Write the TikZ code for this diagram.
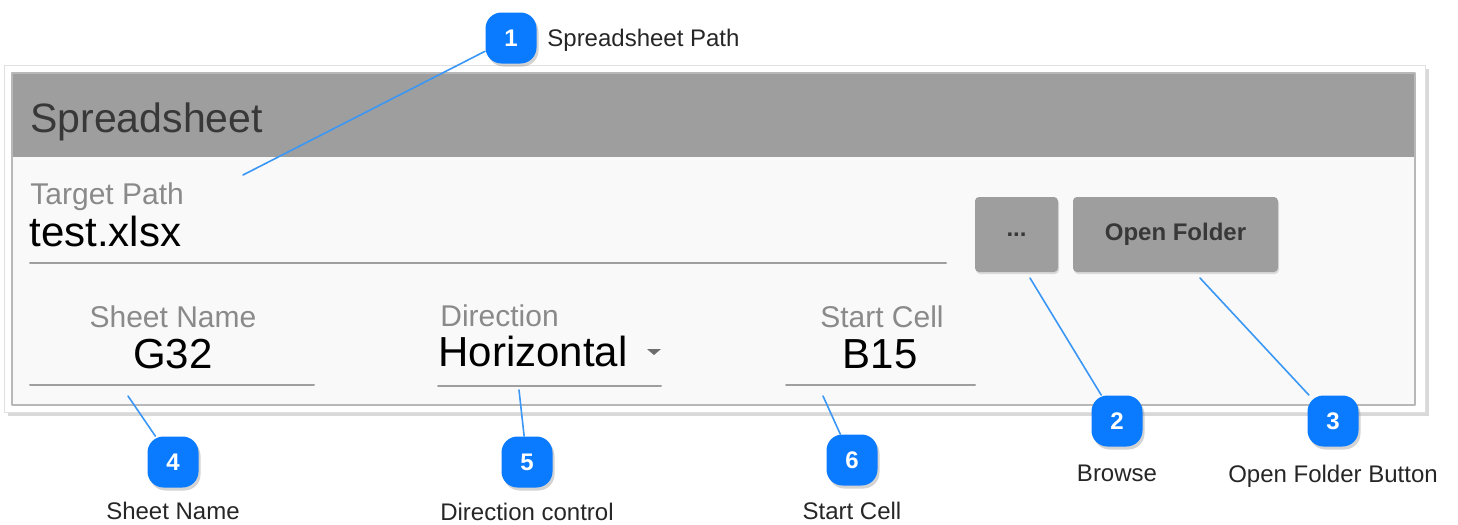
\documentclass[tikz,border=0pt]{standalone}
\usepackage{fontspec}
\setmainfont{Liberation Sans}
\usetikzlibrary{shadows}
\definecolor{badgeblue}{HTML}{0A7BFF}
\definecolor{leaderblue}{HTML}{3A97F5}
\definecolor{headgray}{HTML}{9E9E9E}
\definecolor{bodygray}{HTML}{F9F9F9}
\definecolor{hintgray}{HTML}{8A8A8A}
\definecolor{textdark}{HTML}{383838}

\begin{document}
\begin{tikzpicture}[line cap=round,line join=round,x=.5pt,y=-.5pt,
  badge/.style={rounded corners=8pt,fill=badgeblue,minimum size=25.5pt,inner sep=0,
    text=white,font=\bfseries\fontsize{12}{14}\selectfont,
    drop shadow={opacity=.35,shadow xshift=1pt,shadow yshift=-1.5pt}},
  callout/.style={font=\fontsize{12}{14}\selectfont,text=black!85,inner sep=0},
  leader/.style={leaderblue,line width=.8pt},
  uihead/.style={font=\fontsize{20.5}{24}\selectfont,text=textdark,inner sep=0},
  uihint/.style={font=\fontsize{15}{18}\selectfont,text=hintgray,inner sep=0},
  uivalue/.style={font=\fontsize{21}{25}\selectfont,text=black,inner sep=0},
  uline/.style={headgray,line width=1pt},
  button/.style={fill=headgray,rounded corners=2pt,minimum height=37.5pt,inner sep=0,
    font=\bfseries\fontsize{12}{14}\selectfont,text=textdark,
    drop shadow={opacity=.25,shadow xshift=.5pt,shadow yshift=-1pt}}]
\useasboundingbox (0,0) rectangle (1458,525);
\fill[white,draw=black!12,drop shadow={opacity=.3,shadow xshift=2pt,shadow yshift=-2pt}] (4,65) rectangle (1425,412);
\fill[headgray] (12,73) rectangle (1415,157);
\fill[bodygray] (12,157) rectangle (1415,405);
\draw[black!28,line width=1pt] (12,73) rectangle (1415,405);
\node[uihead,anchor=base west] (title) at (30,132) {Spreadsheet};
\node[uihint,anchor=base west] (pathhint) at (30,204) {Target Path};
\node[uivalue,anchor=base west] (pathval) at (29,246) {test.xlsx};
\draw[uline] (30,263) -- (946,263);
\node[button,minimum width=41.5pt] (browse) at (1016.5,234.5) {...};
\node[button,minimum width=102.5pt] (openfolder) at (1175.5,234.5) {Open Folder};
\node[uihint,anchor=base] (sheethint) at (173,327) {Sheet Name};
\node[uivalue,anchor=base] (sheetval) at (173,368) {G32};
\draw[uline] (30,385) -- (314,385);
\node[uihint,anchor=base west] (dirhint) at (440,326) {Direction};
\node[uivalue,anchor=base west] (dirval) at (438,366) {Horizontal};
\fill[hintgray!80!black] (647,349) -- (661,349) -- (654,355) -- cycle;
\draw[uline] (438,386) -- (661,386);
\node[uihint,anchor=base] (cellhint) at (882,327) {Start Cell};
\node[uivalue,anchor=base] (cellval) at (880,368) {B15};
\draw[uline] (786,385) -- (975,385);
\coordinate (pathtip) at (243,175);
\coordinate (browsetip) at (1030,278);
\coordinate (foldertip) at (1200,278);
\coordinate (sheettip) at (128,396);
\coordinate (dirtip) at (519,390);
\coordinate (celltip) at (823,396);
\node[badge] (b1) at (511,38) {1};
\node[badge] (b2) at (1117,421) {2};
\node[badge] (b3) at (1333,421) {3};
\node[badge] (b4) at (173,462) {4};
\node[badge] (b5) at (527,462) {5};
\node[badge] (b6) at (852,460) {6};
\draw[leader] (b1) -- (pathtip);
\draw[leader] (b2) -- (browsetip);
\draw[leader] (b3) -- (foldertip);
\draw[leader] (b4) -- (sheettip);
\draw[leader] (b5) -- (dirtip);
\draw[leader] (b6) -- (celltip);
\node[callout,anchor=base west] (l1) at (547,46) {Spreadsheet Path};
\node[callout,anchor=base] (l2) at (1117,481) {Browse};
\node[callout,anchor=base] (l3) at (1333,482) {Open Folder Button};
\node[callout,anchor=base] (l4) at (173,519) {Sheet Name};
\node[callout,anchor=base] (l5) at (527,520) {Direction control};
\node[callout,anchor=base] (l6) at (852,519) {Start Cell};
\end{tikzpicture}
\end{document}
